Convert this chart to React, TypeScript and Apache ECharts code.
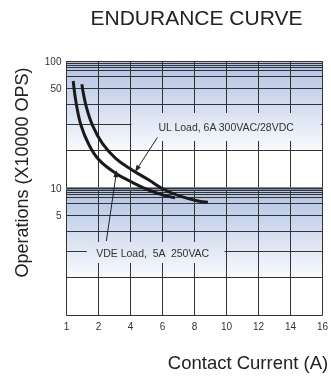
import React, { useEffect, useRef } from 'react';
import * as echarts from 'echarts';

// X axis (drawn positions 0..16, first tick is labelled "1")
const xTickValues = [0, 2, 4, 6, 8, 10, 12, 14, 16];
const xTickLabels = ['1', '2', '4', '6', '8', '10', '12', '14', '16'];
const vGridValues = [2, 4, 6, 8, 10, 12, 14];

// Y axis (log paper)
const yTickValues = [100, 61.6, 10, 6.16];
const yTickLabels = ['100', '50', '10', '5'];
const hGridTop = [97, 93.5, 90, 84.6, 77, 61.6, 46, 32, 20];
const hGridBottom = [9.7, 9.35, 9.0, 8.46, 7.7, 6.16, 4.6, 3.2, 2.0];

// Curves
const vdeX = [0.42, 0.59, 0.9, 1.41, 2.03, 3.07, 4.1, 5.13, 6.16, 6.78];
const vdeY = [70.2, 48.3, 31.6, 22.0, 16.8, 13.2, 11.2, 9.73, 8.78, 8.47];
const ulX = [0.96, 1.21, 1.62, 2.24, 3.07, 4.1, 5.13, 6.16, 7.2, 8.22, 8.84];
const ulY = [66.1, 45.4, 31.6, 22.7, 17.3, 14.0, 11.7, 9.73, 8.62, 7.97, 7.79];

const ulLabel = 'UL Load, 6A 300VAC/28VDC';
const vdeLabel = 'VDE Load,  5A  250VAC';

const FONT = '"Liberation Sans", Arial, Helvetica, sans-serif';
const BAND_TOP = [176, 193, 226];
const BAND_BOTTOM = [248, 250, 253];

function lerpColor(t: number) {
  const c = BAND_TOP.map((a, i) => Math.round(a + (BAND_BOTTOM[i] - a) * t));
  return `rgb(${c[0]},${c[1]},${c[2]})`;
}
function bandT(v: number, hi: number, lo: number) {
  return (Math.log10(hi) - Math.log10(v)) / (Math.log10(hi) - Math.log10(lo));
}
function bandGradient() {
  return new echarts.graphic.LinearGradient(0, 0, 0, 1, [
    { offset: 0, color: lerpColor(0) },
    { offset: 1, color: lerpColor(1) },
  ]);
}
function boxGradient(vHi: number, vLo: number, hi: number, lo: number) {
  return new echarts.graphic.LinearGradient(0, 0, 0, 1, [
    { offset: 0, color: lerpColor(bandT(vHi, hi, lo)) },
    { offset: 1, color: lerpColor(bandT(vLo, hi, lo)) },
  ]);
}

export default function App() {
  const ref = useRef<HTMLDivElement>(null);
  useEffect(() => {
    if (!ref.current) return;
    const chart = echarts.init(ref.current, undefined, { renderer: 'svg' });
    const lineColor = '#333';
    const gridLines: any[] = [];
    [...hGridTop, ...hGridBottom].forEach((v) => gridLines.push({ yAxis: v }));
    vGridValues.forEach((v) => gridLines.push({ xAxis: v }));
    gridLines.push({ xAxis: 0 }, { xAxis: 16 }, { yAxis: 1 });
    gridLines.push({ yAxis: 100 });
    gridLines.push({ yAxis: 10, lineStyle: { width: 3, color: '#7c899f' } });
    yTickValues.forEach((v, i) => {
      gridLines.push({
        yAxis: v,
        lineStyle: v === 10 ? { width: 1, color: lineColor } : undefined,
        label: {
          show: true,
          position: 'start',
          formatter: yTickLabels[i],
          fontSize: 10,
          color: '#333',
          fontFamily: FONT,
          distance: 5,
        },
      });
    });

    const textStyle = (text: string, size: number) => ({
      text,
      fontSize: size,
      fontFamily: FONT,
      fill: '#222',
      align: 'center',
      verticalAlign: 'middle',
      textAlign: 'center',
      textVerticalAlign: 'middle',
    });

    chart.setOption({
      animation: false,
      grid: { left: 66.5, top: 61.5, width: 259, height: 254 },
      xAxis: {
        type: 'value',
        min: 0,
        max: 16,
        interval: 2,
        axisLine: { show: false },
        axisTick: { show: false },
        splitLine: { show: false },
        axisLabel: {
          fontSize: 10,
          color: '#333',
          fontFamily: FONT,
          margin: 6,
          formatter: (v: number) => xTickLabels[xTickValues.indexOf(v)] ?? '',
        },
      },
      yAxis: {
        type: 'log',
        logBase: 10,
        min: 1,
        max: 100,
        axisLine: { show: false },
        axisTick: { show: false },
        splitLine: { show: false },
        axisLabel: { show: false },
      },
      graphic: [
        { type: 'text', x: 196.5, y: 17, style: textStyle('ENDURANCE CURVE', 21) },
        {
          type: 'text',
          x: 21.5,
          y: 172.5,
          rotation: Math.PI / 2,
          style: textStyle('Operations (X10000 OPS)', 18),
        },
        { type: 'text', x: 248, y: 362, style: textStyle('Contact Current (A)', 18.5) },
      ],
      series: [
        {
          name: 'bands',
          type: 'line',
          data: [],
          z: 1,
          markArea: {
            z: 1,
            silent: true,
            data: [
              [
                { xAxis: 0, yAxis: 100, itemStyle: { color: bandGradient() } },
                { xAxis: 16, yAxis: 20 },
              ],
              [
                { xAxis: 0, yAxis: 10, itemStyle: { color: bandGradient() } },
                { xAxis: 16, yAxis: 2 },
              ],
            ],
          },
        },
        {
          name: 'grid',
          type: 'line',
          data: [],
          z: 2,
          markLine: {
            z: 2,
            silent: true,
            symbol: ['none', 'none'],
            label: { show: false },
            lineStyle: { color: lineColor, width: 1, type: 'solid' },
            data: gridLines,
          },
        },
        {
          name: 'boxes',
          type: 'line',
          data: [],
          z: 3,
          markArea: {
            z: 3,
            silent: true,
            label: {
              show: true,
              position: 'inside',
              fontSize: 10.5,
              color: '#333',
              fontFamily: FONT,
            },
            data: [
              [
                {
                  name: ulLabel,
                  xAxis: 4.06,
                  yAxis: 39.3,
                  itemStyle: { color: boxGradient(39.3, 23.7, 100, 20) },
                },
                { xAxis: 15.9, yAxis: 23.7 },
              ],
              [
                {
                  name: vdeLabel,
                  xAxis: 1.27,
                  yAxis: 3.79,
                  itemStyle: { color: boxGradient(3.79, 2.59, 10, 2) },
                  label: { offset: [-3, 0] },
                },
                { xAxis: 9.88, yAxis: 2.59 },
              ],
            ],
          },
        },
        {
          name: 'VDE Load',
          type: 'line',
          z: 4,
          smooth: 0.4,
          showSymbol: false,
          lineStyle: { color: '#1a1a1a', width: 3 },
          data: vdeX.map((x, i) => [x, vdeY[i]]),
          markLine: {
            z: 5,
            silent: true,
            symbol: ['none', 'triangle'],
            symbolSize: [5, 7],
            label: { show: false },
            lineStyle: { color: '#222', width: 1, type: 'solid' },
            data: [[{ coord: [2.49, 3.86] }, { coord: [3.11, 13.1] }]],
          },
        },
        {
          name: 'UL Load',
          type: 'line',
          z: 4,
          smooth: 0.4,
          showSymbol: false,
          lineStyle: { color: '#1a1a1a', width: 3 },
          data: ulX.map((x, i) => [x, ulY[i]]),
          markLine: {
            z: 5,
            silent: true,
            symbol: ['none', 'triangle'],
            symbolSize: [5, 7],
            label: { show: false },
            lineStyle: { color: '#222', width: 1, type: 'solid' },
            data: [[{ coord: [5.68, 25.2] }, { coord: [4.4, 14.2] }]],
          },
        },
      ],
    });
    return () => chart.dispose();
  }, []);
  return (
    <div
      ref={ref}
      style={{ position: 'fixed', left: 0, top: 0, width: 331, height: 380 }}
    />
  );
}
